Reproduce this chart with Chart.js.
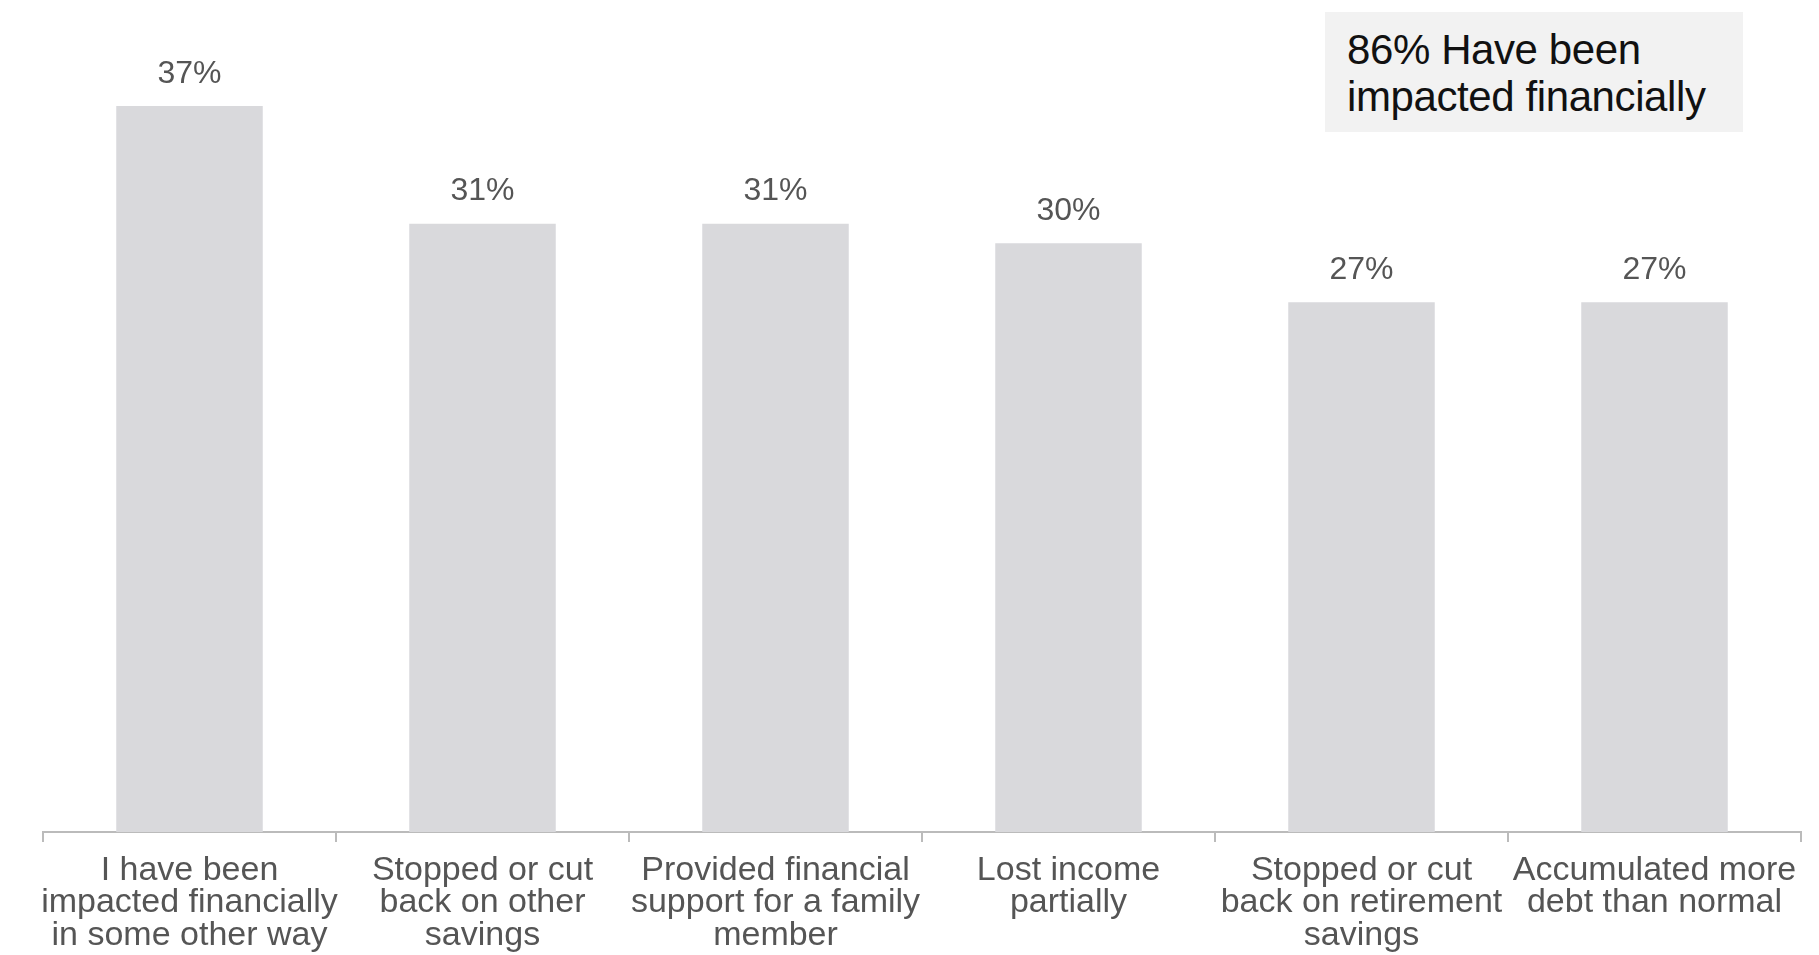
<!DOCTYPE html>
<html>
<head>
<meta charset="utf-8">
<script src="https://cdn.jsdelivr.net/npm/chart.js@4/dist/chart.umd.min.js"></script>
<style>
    body { margin: 0; background: #fff; }
    #wrap { position: relative; width: 1819px; height: 955px; }
    #note {
        position: absolute; left: 1325px; top: 12px; width: 418px; height: 120px;
        background: #f2f2f2; box-sizing: border-box; padding: 14px 0 0 22px;
        font-family: "Liberation Sans", Arial, sans-serif; font-size: 42px; line-height: 47px;
        color: #111; letter-spacing: -0.4px;
    }
</style>
</head>
<body>
<div id="wrap">
    <canvas id="chart"></canvas>
    <div id="note">86% Have been<br>impacted financially</div>
</div>
<script>
// categories and values
const categories = [
    ["I have been", "impacted financially", "in some other way"],
    ["Stopped or cut", "back on other", "savings"],
    ["Provided financial", "support for a family", "member"],
    ["Lost income", "partially"],
    ["Stopped or cut", "back on retirement", "savings"],
    ["Accumulated more", "debt than normal"]
];
const values = [37, 31, 31, 30, 27, 27];

// draws the % above each bar
const valueLabels = {
    id: "valueLabels",
    afterDatasetsDraw(chart) {
        const ctx = chart.ctx;
        const meta = chart.getDatasetMeta(0);
        ctx.save();
        ctx.font = "32px 'Liberation Sans', Arial, sans-serif";
        ctx.fillStyle = "#555";
        ctx.textAlign = "center";
        ctx.textBaseline = "middle";
        meta.data.forEach((bar, i) => {
            ctx.fillText(values[i] + "%", bar.x, bar.y - 32);
        });
        ctx.restore();
    }
};

new Chart(document.getElementById("chart"), {
    type: "bar",
    data: {
        labels: categories,
        datasets: [{
            data: values,
            backgroundColor: "#d9d9dc",
            categoryPercentage: 0.5,
            barPercentage: 1
        }]
    },
    options: {
        responsive: true,
        maintainAspectRatio: false,
        animation: false,
        layout: { padding: { top: 47, left: 43, right: 18, bottom: 0 } },
        plugins: { legend: { display: false }, tooltip: { enabled: false } },
        scales: {
            y: { display: false, min: 0, max: 40 },
            x: {
                afterFit(scale) { scale.height = 123; },
                border: { display: true, color: "#bbb", width: 2 },
                grid: { offset: true, drawOnChartArea: false, drawTicks: true, tickLength: 10, color: "#bbb", lineWidth: 2 },
                ticks: {
                    color: "#555",
                    padding: 12,
                    maxRotation: 0,
                    autoSkip: false,
                    font: { family: "'Liberation Sans', Arial, sans-serif", size: 34, lineHeight: 0.96 }
                }
            }
        }
    },
    plugins: [valueLabels]
});
</script>
</body>
</html>
